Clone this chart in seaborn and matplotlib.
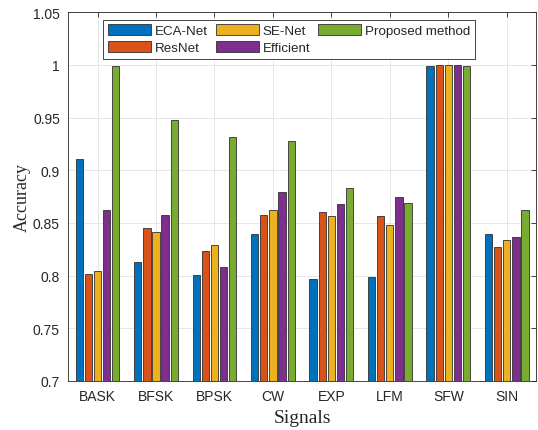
import matplotlib
matplotlib.use("Agg")
import matplotlib.pyplot as plt
import seaborn as sns
import pandas as pd
from matplotlib.ticker import MultipleLocator, FuncFormatter

# values
signals = ["BASK", "BFSK", "BPSK", "CW", "EXP", "LFM", "SFW", "SIN"]
methods = ["ECA-Net", "ResNet", "SE-Net", "Efficient", "Proposed method"]

eca_net = [0.911, 0.813, 0.801, 0.840, 0.797, 0.799, 0.999, 0.840]
resnet = [0.802, 0.845, 0.823, 0.858, 0.860, 0.857, 0.9995, 0.827]
se_net = [0.804, 0.841, 0.829, 0.862, 0.857, 0.848, 1.000, 0.834]
efficient = [0.862, 0.858, 0.808, 0.879, 0.868, 0.875, 1.000, 0.837]
proposed = [0.999, 0.948, 0.932, 0.928, 0.883, 0.869, 0.999, 0.862]

colors = ["#0072BD", "#D95319", "#EDB120", "#7E2F8E", "#77AC30"]

series = [eca_net, resnet, se_net, efficient, proposed]
rows = []
for m, vals in zip(methods, series):
  for s, v in zip(signals, vals):
    rows.append({"Signals": s, "Method": m, "Accuracy": v})
df = pd.DataFrame(rows)

sns.set_style("white")
plt.rcParams['font.family'] = ['Liberation Sans', 'DejaVu Sans']

fig = plt.figure(figsize=(5.38, 4.31), dpi=100)
ax = fig.add_axes([68.3 / 538, 1 - 382 / 431, (536 - 68.3) / 538, (382 - 13.3) / 431])

# saturation=1 so the matlab colours are kept as they are
sns.barplot(data=df, x="Signals", y="Accuracy", hue="Method", order=signals,
            hue_order=methods, palette=colors, saturation=1, width=0.78, gap=0.2,
            edgecolor="#303030", linewidth=0.6, ax=ax)

ax.set_ylim(0.7, 1.05)
ax.set_xlim(-0.5, len(signals) - 0.5)
ax.yaxis.set_major_locator(MultipleLocator(0.05))
ax.yaxis.set_major_formatter(FuncFormatter(lambda v, p: f"{v:g}"))

# matlab-ish box with inward ticks on all sides
for sp in ax.spines.values():
  sp.set_visible(True)
  sp.set_color("#262626")
  sp.set_linewidth(0.6)
ax.tick_params(direction="in", length=3.5, width=0.6, color="#262626",
               labelcolor="#262626", labelsize=10, top=True, right=True, pad=6)
ax.grid(True, color="#e3e3e3", linewidth=0.6)
ax.set_axisbelow(True)

ax.set_xlabel("Signals", fontsize=14, family="Liberation Serif", color="#262626", labelpad=4)
ax.set_ylabel("Accuracy", fontsize=13, family="Liberation Serif", color="#262626", labelpad=1.5)

handles, labels = ax.get_legend_handles_labels()
ax.get_legend().remove()
for h in handles:
  h.set_edgecolor("#303030")
  h.set_linewidth(0.6)
leg = ax.legend(handles, labels, ncol=3, loc="upper left", bbox_to_anchor=(0.075, 0.98),
                borderaxespad=0, fontsize=9.6, handlelength=3.25, handleheight=0.85,
                handletextpad=0.25, columnspacing=0.6, labelspacing=0.3,
                borderpad=0.35, fancybox=False, framealpha=1)
leg.get_frame().set_edgecolor("#262626")
leg.get_frame().set_linewidth(0.6)

fig.savefig("out.png", dpi=100)
